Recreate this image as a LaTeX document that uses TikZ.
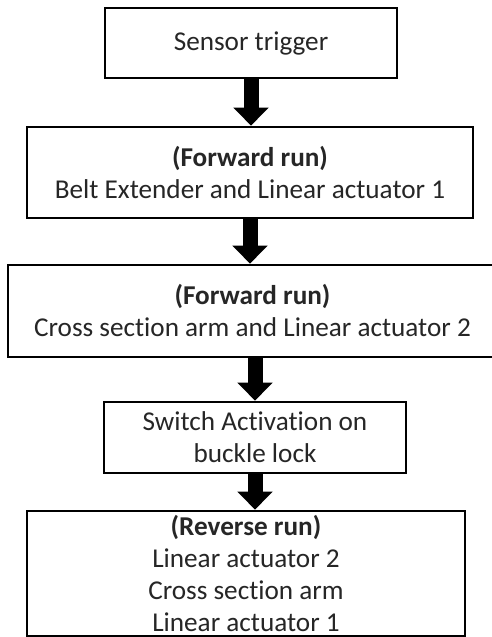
\documentclass[tikz,border=0pt]{standalone}
\usepackage{fontspec}
\setmainfont{Carlito}[Ligatures=NoCommon]
\usetikzlibrary{arrows.meta}

\tikzset{
  stepbox/.style={draw=black, line width=2.6pt, fill=white, align=center,
    inner sep=0pt, text=black!85,
    font=\fontsize{27.2}{32}\selectfont},
  flowarrow/.style={line width=15pt, black,
    -{Triangle[width=34pt, length=18pt]}},
}

\begin{document}
\begin{tikzpicture}[x=1pt, y=-1pt]
  \useasboundingbox (0,0) rectangle (491,637);

  \node[stepbox, minimum width=292pt, minimum height=70pt] (trigger) at (251,43)
    {Sensor trigger};
  \node[stepbox, minimum width=446pt, minimum height=91pt] (fwdone) at (250,172.5)
    {\textbf{(Forward run)}\\Belt Extender and Linear actuator 1};
  \node[stepbox, minimum width=489pt, minimum height=92pt] (fwdtwo) at (252.5,311)
    {\textbf{(Forward run)}\\Cross section arm and Linear actuator 2};
  \node[stepbox, minimum width=302pt, minimum height=71pt] (switch) at (255,437.5)
    {Switch Activation on\\buckle lock};
  \node[stepbox, minimum width=438pt, minimum height=125pt] (reverse) at (246,573.5)
    {\textbf{(Reverse run)}\\Linear actuator 2\\Cross section arm\\Linear actuator 1};

  \draw[flowarrow] (trigger.south) -- (trigger.south |- fwdone.north);
  \draw[flowarrow] (fwdone.south) -- (fwdone.south |- fwdtwo.north);
  \draw[flowarrow] (switch.north |- fwdtwo.south) -- (switch.north);
  \draw[flowarrow] (switch.south) -- (switch.south |- reverse.north);
\end{tikzpicture}
\end{document}
